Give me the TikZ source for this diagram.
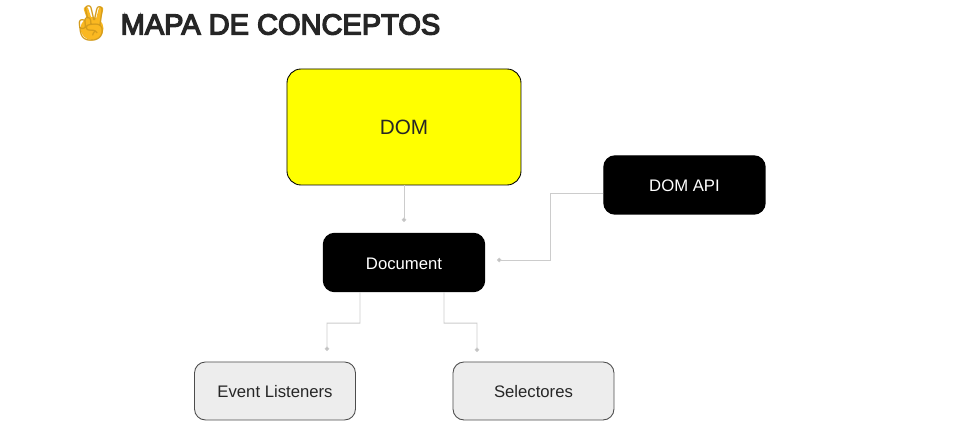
\documentclass[tikz,border=0pt]{standalone}
\usepackage{fontspec}
\usepackage{xcolor}
\setmainfont{Liberation Sans}
\newfontfamily\emojifont{Noto Emoji}
\newfontfamily\titlefont[FakeBold=4.5]{Liberation Sans}
\definecolor{markeryellow}{rgb}{1,1,0}
\definecolor{handamber}{rgb}{0.98,0.72,0.13}
\usetikzlibrary{arrows.meta,positioning,calc}

\begin{document}
\begin{tikzpicture}[
  darkbox/.style={draw=black, fill=black, text=white, rounded corners=0.11cm, minimum width=1.61cm, minimum height=0.58cm, text height=3.9pt, text depth=0pt, font=\fontsize{4.75pt}{6pt}\selectfont, inner sep=0pt},
  lightbox/.style={draw=black!70, fill=black!7, text=black!85, line width=0.25pt, rounded corners=0.11cm, minimum width=1.61cm, minimum height=0.58cm, text height=3.9pt, text depth=0pt, font=\fontsize{4.75pt}{6pt}\selectfont, inner sep=0pt},
  topicbox/.style={draw=black, fill=markeryellow, text=black!85, line width=0.25pt, rounded corners=0.14cm, minimum width=2.34cm, minimum height=1.16cm, font=\fontsize{5.9pt}{7pt}\selectfont, inner sep=0pt},
  link/.style={draw=black!20, line width=0.28pt, -{Circle[length=1.25pt,fill=black!28]}},
  finger/.style={draw=handamber, line width=1.3pt, line cap=round}
]
  \useasboundingbox (0,0) rectangle (9.6,-4.42);
  \fill[white] (0,0) rectangle (9.6,-4.42);
  % filled hand under the glyph
  \fill[handamber] (0.92,-0.285) circle[radius=0.115];
  \draw[finger] (0.91,-0.24) -- (0.86,-0.09);
  \draw[finger] (0.97,-0.24) -- (1.01,-0.09);
  \node[text=handamber!85!black, font=\emojifont\fontsize{10pt}{12pt}\selectfont, inner sep=0pt] (hand) at (0.91,-0.235) {✌};
  \node[anchor=west, text=black!85, font=\titlefont\fontsize{8.25pt}{10pt}\selectfont, inner sep=0pt] (title) at (1.2,-0.245) {MAPA DE CONCEPTOS};

  \node[topicbox] (dom) at (4.04,-1.27) {DOM};
  \node[darkbox] (document) at (4.04,-2.625) {Document};
  \node[darkbox] (domapi) at (6.845,-1.85) {DOM API};
  \node[lightbox] (listeners) at (2.75,-3.91) {Event Listeners};
  \node[lightbox] (selectores) at (5.335,-3.91) {Selectores};

  \coordinate (domend) at (4.04,-2.22);
  \coordinate (apiend) at (4.97,-2.6);
  \coordinate (leftend) at (3.27,-3.51);
  \coordinate (rightend) at (4.77,-3.52);

  \draw[link] (dom.south) -- (domend);
  \draw[link] ([yshift=-0.08cm]domapi.west) -- ++(-0.53,0) |- (apiend);
  \draw[link] ([xshift=-0.44cm]document.south) |- ++(-0.33,-0.31) -- (leftend);
  \draw[link] ([xshift=0.4cm]document.south) |- ++(0.33,-0.31) -- (rightend);
\end{tikzpicture}
\end{document}
